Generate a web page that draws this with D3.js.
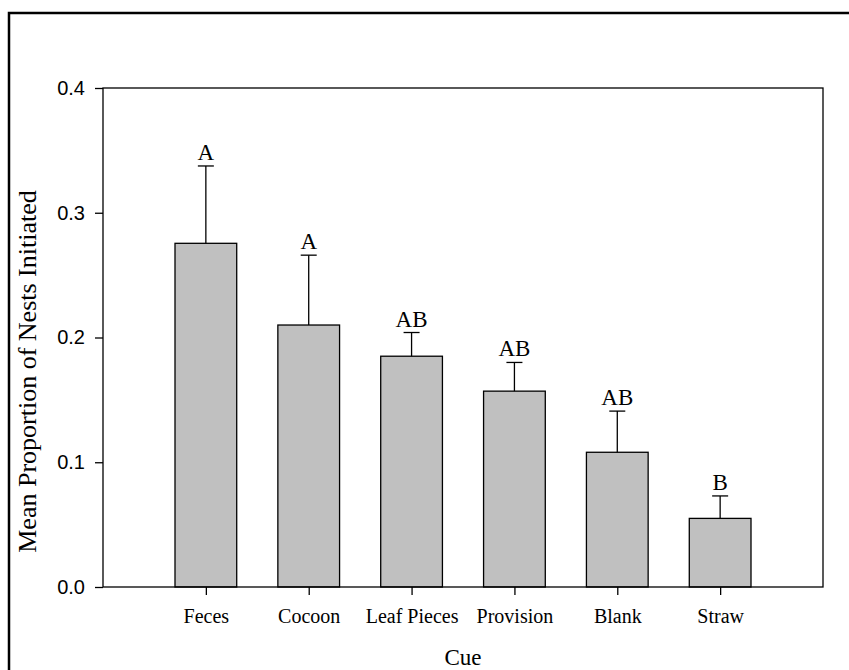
<!DOCTYPE html>
<html>
<head>
<meta charset="utf-8">
<script src="https://cdn.jsdelivr.net/npm/d3@7"></script>
<style>
  body { margin: 0; background: #fff; }
  svg { display: block; }
</style>
</head>
<body>
<div id="grafiek"></div>
<script>
const cues = ["Feces", "Cocoon", "Leaf Pieces", "Provision", "Blank", "Straw"];
const means = [0.2755, 0.210, 0.185, 0.157, 0.108, 0.055];
const errors = [0.062, 0.056, 0.019, 0.023, 0.033, 0.018];
const letters = ["A", "A", "AB", "AB", "AB", "B"];
const yTicks = [0.0, 0.1, 0.2, 0.3, 0.4];

const width = 849;
const height = 670;
const plotLeft = 103, plotRight = 823, plotTop = 88, plotBottom = 587;
const serif = "Liberation Serif, Times New Roman, serif";

const svg = d3.select("#grafiek")
  .append("svg")
  .attr("width", width)
  .attr("height", height);

// buitenkader, loopt door buiten beeld
svg.append("rect")
  .attr("x", 9).attr("y", 13)
  .attr("width", 900).attr("height", 700)
  .attr("fill", "none")
  .attr("stroke", "#000")
  .attr("stroke-width", 2.5);

const x = d3.scalePoint()
  .domain(cues)
  .range([plotLeft, plotRight])
  .padding(1);

const y = d3.scaleLinear()
  .domain([0, 0.4])
  .range([plotBottom, plotTop]);

const barWidth = x.step() * 0.6;

// balken
svg.append("g")
  .selectAll("rect")
  .data(cues)
  .join("rect")
  .attr("x", d => x(d) - barWidth / 2)
  .attr("y", (d, i) => y(means[i]))
  .attr("width", barWidth)
  .attr("height", (d, i) => y(0) - y(means[i]))
  .attr("fill", "#c0c0c0")
  .attr("stroke", "#000")
  .attr("stroke-width", 1.3);

// foutbalken
const fout = svg.append("g").attr("stroke", "#000").attr("stroke-width", 1.3);
fout.selectAll("line.v")
  .data(cues)
  .join("line")
  .attr("class", "v")
  .attr("x1", d => x(d)).attr("x2", d => x(d))
  .attr("y1", (d, i) => y(means[i]))
  .attr("y2", (d, i) => y(means[i] + errors[i]));
fout.selectAll("line.c")
  .data(cues)
  .join("line")
  .attr("class", "c")
  .attr("x1", d => x(d) - 8).attr("x2", d => x(d) + 8)
  .attr("y1", (d, i) => y(means[i] + errors[i]))
  .attr("y2", (d, i) => y(means[i] + errors[i]));

// letters
svg.append("g")
  .selectAll("text")
  .data(cues)
  .join("text")
  .attr("x", d => x(d))
  .attr("y", (d, i) => y(means[i] + errors[i]) - 6)
  .attr("text-anchor", "middle")
  .attr("font-family", serif)
  .attr("font-size", 23)
  .text((d, i) => letters[i]);

// plotkader
svg.append("rect")
  .attr("x", plotLeft).attr("y", plotTop)
  .attr("width", plotRight - plotLeft).attr("height", plotBottom - plotTop)
  .attr("fill", "none")
  .attr("stroke", "#000")
  .attr("stroke-width", 1.3);

// Y-AS
const yAs = svg.append("g")
  .attr("transform", `translate(${plotLeft},0)`)
  .call(d3.axisLeft(y).tickValues(yTicks).tickFormat(d3.format(".1f")).tickSize(8).tickPadding(10));
yAs.select(".domain").remove();
yAs.selectAll("line").attr("stroke-width", 1.3);
yAs.selectAll("text")
  .attr("font-family", "Liberation Sans, Arial, sans-serif")
  .attr("font-size", 20)
  .attr("fill", "#000");

// X-AS
const xAs = svg.append("g")
  .attr("transform", `translate(0,${plotBottom})`)
  .call(d3.axisBottom(x).tickSize(8).tickPadding(14));
xAs.select(".domain").remove();
xAs.selectAll("line").attr("stroke-width", 1.3);
xAs.selectAll("text")
  .attr("font-family", serif)
  .attr("font-size", 20)
  .attr("fill", "#000");

// astitels
svg.append("text")
  .attr("x", (plotLeft + plotRight) / 2)
  .attr("y", 665)
  .attr("text-anchor", "middle")
  .attr("font-family", serif)
  .attr("font-size", 23)
  .text("Cue");

svg.append("text")
  .attr("transform", `translate(36,${(plotTop + plotBottom) / 2 + 34}) rotate(-90)`)
  .attr("text-anchor", "middle")
  .attr("font-family", serif)
  .attr("font-size", 26)
  .text("Mean Proportion of Nests Initiated");
</script>
</body>
</html>
